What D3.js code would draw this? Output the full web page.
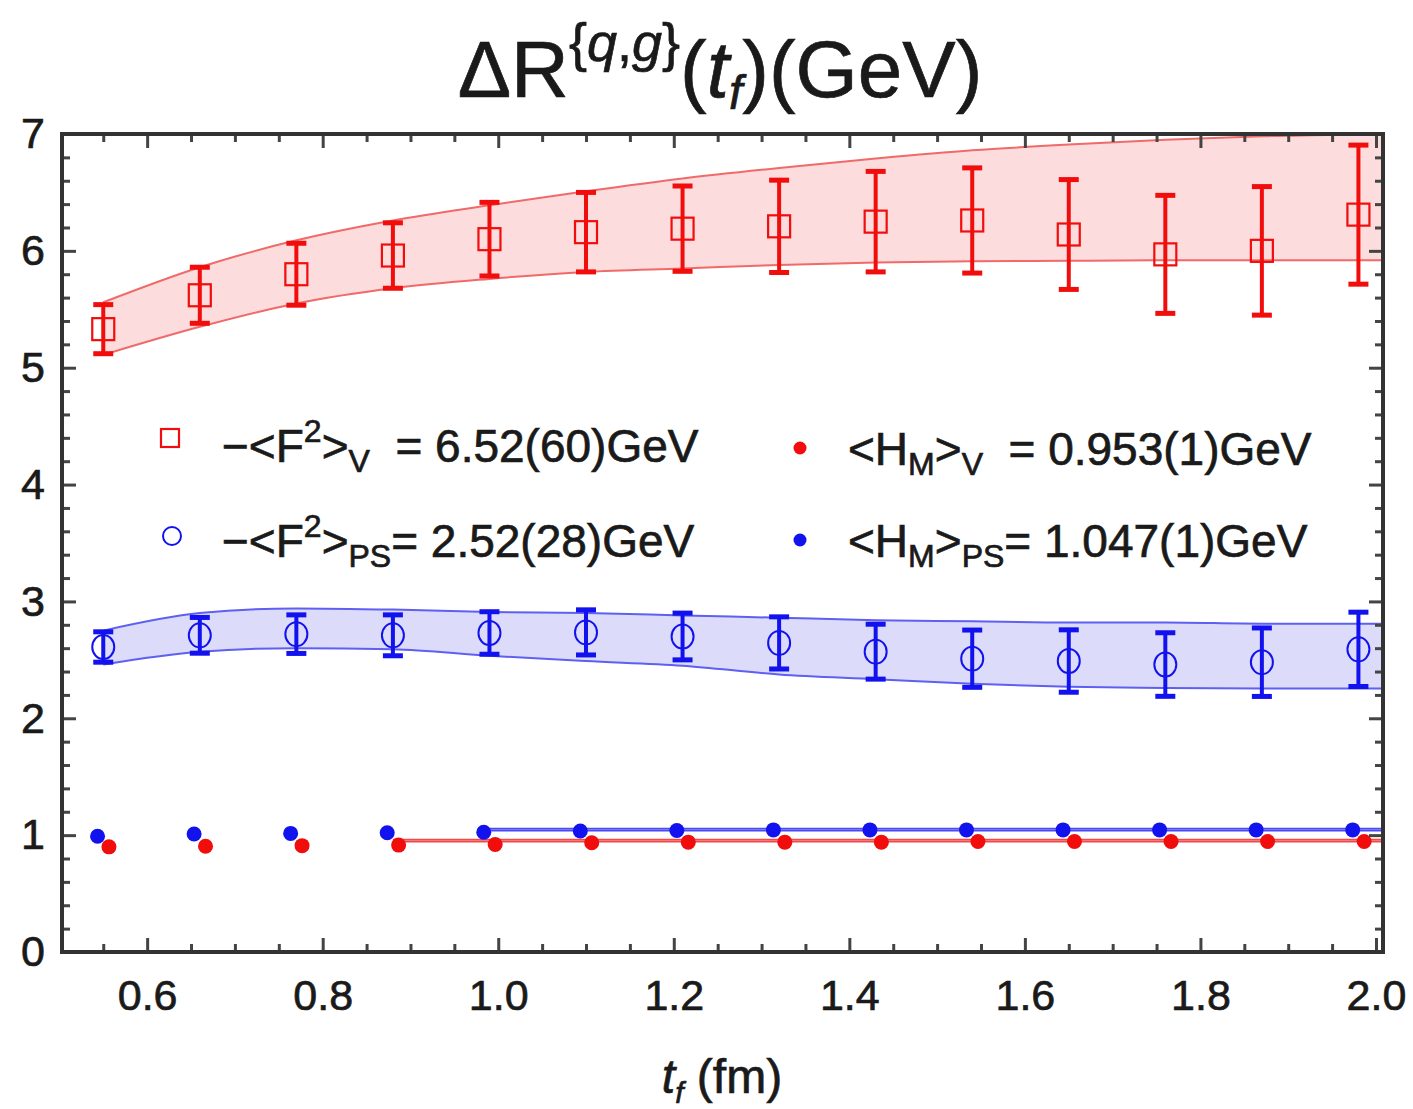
<!DOCTYPE html>
<html>
<head>
<meta charset="utf-8">
<script src="https://cdn.jsdelivr.net/npm/d3@7.9.0/dist/d3.min.js"></script>
<style>
  html, body { margin: 0; padding: 0; background: #fff; }
  svg { display: block; }
  text { font-family: "Liberation Sans", Arial, sans-serif; fill: #1a1a1a; stroke: #1a1a1a; stroke-width: 0.7px; white-space: pre; }
</style>
</head>
<body>
<svg id="chart" width="1413" height="1109"></svg>
<script>
// source times t_f (fm)
const tf = [0.55, 0.66, 0.77, 0.88, 0.99, 1.10, 1.21, 1.32, 1.43, 1.54, 1.65, 1.76, 1.87, 1.98];

// -<F^2>_V points and errors
const f2V    = [5.33, 5.62, 5.80, 5.96, 6.10, 6.16, 6.19, 6.21, 6.25, 6.26, 6.14, 5.97, 6.00, 6.31];
const f2VErr = [0.21, 0.24, 0.265, 0.28, 0.315, 0.34, 0.365, 0.395, 0.43, 0.45, 0.47, 0.505, 0.55, 0.595];

// -<F^2>_PS points and errors
const f2PS    = [2.61, 2.71, 2.72, 2.71, 2.73, 2.735, 2.70, 2.645, 2.57, 2.51, 2.49, 2.46, 2.48, 2.59];
const f2PSErr = [0.13, 0.153, 0.165, 0.175, 0.182, 0.193, 0.20, 0.223, 0.235, 0.245, 0.267, 0.272, 0.293, 0.318];

// <H_M> points
const hmV  = [0.90, 0.905, 0.91, 0.915, 0.92, 0.935, 0.94, 0.94, 0.94, 0.945, 0.945, 0.945, 0.945, 0.945];
const hmPS = [0.99, 1.01, 1.015, 1.02, 1.025, 1.035, 1.04, 1.045, 1.045, 1.045, 1.045, 1.045, 1.045, 1.045];

// fit bands
const bandX      = [0.55, 0.66, 0.77, 0.88, 0.99, 1.10, 1.21, 1.32, 1.43, 1.54, 1.65, 1.76, 1.87, 1.98, 2.01];
const f2VBandHi  = [5.56, 5.86, 6.09, 6.26, 6.39, 6.51, 6.62, 6.71, 6.79, 6.86, 6.91, 6.95, 6.98, 7.00, 7.01];
const f2VBandLo  = [5.11, 5.35, 5.55, 5.68, 5.76, 5.82, 5.85, 5.88, 5.90, 5.91, 5.915, 5.92, 5.92, 5.92, 5.92];
const f2PSBandHi = [2.75, 2.90, 2.94, 2.93, 2.91, 2.90, 2.88, 2.86, 2.84, 2.83, 2.82, 2.82, 2.81, 2.81, 2.81];
const f2PSBandLo = [2.46, 2.57, 2.60, 2.59, 2.535, 2.49, 2.45, 2.375, 2.335, 2.295, 2.27, 2.26, 2.255, 2.255, 2.255];

const hmFitV = 0.953, hmFitPS = 1.047, hmFitErr = 0.008;
const hmFitRangeV  = [0.88, 2.01];
const hmFitRangePS = [0.99, 2.01];

const xTicks = [0.6, 0.8, 1.0, 1.2, 1.4, 1.6, 1.8, 2.0];
const yTicks = [0, 1, 2, 3, 4, 5, 6, 7];

const RED = '#f20d0d', BLUE = '#1212ee';

const svg = d3.select('#chart');
const L = 62, R = 1383, T = 134, B = 952;

const x = d3.scaleLinear().domain([0.503, 2.008]).range([L, R]);
const y = d3.scaleLinear().domain([0, 7]).range([B, T]);

svg.append('defs').append('clipPath').attr('id', 'plot')
  .append('rect').attr('x', L).attr('y', T).attr('width', R - L).attr('height', B - T);

const plot = svg.append('g').attr('clip-path', 'url(#plot)');

// bands
const band = (hi, lo) => d3.area().curve(d3.curveMonotoneX)
  .x((d, i) => x(bandX[i])).y0((d, i) => y(lo[i])).y1((d, i) => y(hi[i]));
const edge = arr => d3.line().curve(d3.curveMonotoneX)
  .x((d, i) => x(bandX[i])).y((d, i) => y(arr[i]));

[[f2VBandHi, f2VBandLo, '#fcdcdc', '#f06a6a'], [f2PSBandHi, f2PSBandLo, '#dcdcfa', '#5f5ff2']]
  .forEach(([hi, lo, fill, stroke]) => {
    plot.append('path').datum(hi).attr('d', band(hi, lo)).attr('fill', fill);
    plot.append('path').datum(hi).attr('d', edge(hi)).attr('fill', 'none').attr('stroke', stroke).attr('stroke-width', 2);
    plot.append('path').datum(lo).attr('d', edge(lo)).attr('fill', 'none').attr('stroke', stroke).attr('stroke-width', 2);
  });

// H_M fit lines (thin bands)
[[hmFitRangePS, hmFitPS, '#c8c8fa', '#4a4af5'], [hmFitRangeV, hmFitV, '#fac8c8', '#f04a4a']]
  .forEach(([rng, v, fill, stroke]) => {
    plot.append('rect').attr('x', x(rng[0])).attr('width', x(rng[1]) - x(rng[0]))
      .attr('y', y(v + hmFitErr)).attr('height', y(v - hmFitErr) - y(v + hmFitErr)).attr('fill', fill);
    [v + hmFitErr, v - hmFitErr].forEach(e => {
      plot.append('line').attr('x1', x(rng[0])).attr('x2', x(rng[1]))
        .attr('y1', y(e)).attr('y2', y(e)).attr('stroke', stroke).attr('stroke-width', 1.8);
    });
  });

// error bars
function errorBars(vals, errs, color) {
  const g = plot.append('g').attr('stroke', color);
  tf.forEach((t, i) => {
    const cx = x(t), y1 = y(vals[i] + errs[i]), y2 = y(vals[i] - errs[i]);
    g.append('line').attr('x1', cx).attr('x2', cx).attr('y1', y1).attr('y2', y2).attr('stroke-width', 4);
    [y1, y2].forEach(yy => g.append('line').attr('x1', cx - 10).attr('x2', cx + 10)
      .attr('y1', yy).attr('y2', yy).attr('stroke-width', 5));
  });
}
errorBars(f2V, f2VErr, RED);
errorBars(f2PS, f2PSErr, BLUE);

plot.append('g').selectAll('rect').data(f2V).join('rect')
  .attr('x', (d, i) => x(tf[i]) - 11).attr('y', d => y(d) - 11)
  .attr('width', 22).attr('height', 22)
  .attr('fill', 'none').attr('stroke', RED).attr('stroke-width', 2.2);

plot.append('g').selectAll('ellipse').data(f2PS).join('ellipse')
  .attr('cx', (d, i) => x(tf[i])).attr('cy', d => y(d))
  .attr('rx', 11).attr('ry', 12)
  .attr('fill', 'none').attr('stroke', BLUE).attr('stroke-width', 2);

// H_M dots
plot.append('g').selectAll('circle').data(hmPS).join('circle')
  .attr('cx', (d, i) => x(tf[i] - 0.0065)).attr('cy', d => y(d)).attr('r', 7.5).attr('fill', BLUE);
plot.append('g').selectAll('circle').data(hmV).join('circle')
  .attr('cx', (d, i) => x(tf[i] + 0.0065)).attr('cy', d => y(d)).attr('r', 7.5).attr('fill', RED);

// frame ticks
const xMinor = d3.range(11, 41).map(i => i * 0.05).filter(v => Math.abs(v / 0.2 - Math.round(v / 0.2)) > 1e-6);
const yMinor = d3.range(0, 36).map(i => i * 0.2).filter(v => Math.abs(v - Math.round(v)) > 1e-6);

function styleAxis(g, labels) {
  g.select('.domain').remove();
  g.selectAll('line').attr('stroke', '#444').attr('stroke-width', 3);
  if (!labels) g.selectAll('text').remove();
  else g.selectAll('text').attr('font-size', 43).attr('fill', '#1a1a1a')
    .attr('font-family', '"Liberation Sans", Arial, sans-serif');
}

svg.append('g').attr('transform', `translate(0,${B})`)
  .call(d3.axisBottom(x).tickValues(xTicks).tickSize(-14).tickPadding(27).tickFormat(d3.format('.1f')))
  .call(g => styleAxis(g, true));
svg.append('g').attr('transform', `translate(0,${B})`)
  .call(d3.axisBottom(x).tickValues(xMinor).tickSize(-8)).call(g => styleAxis(g, false));
svg.append('g').attr('transform', `translate(0,${T})`)
  .call(d3.axisTop(x).tickValues(xTicks).tickSize(-14)).call(g => styleAxis(g, false));
svg.append('g').attr('transform', `translate(0,${T})`)
  .call(d3.axisTop(x).tickValues(xMinor).tickSize(-8)).call(g => styleAxis(g, false));

svg.append('g').attr('transform', `translate(${L},0)`)
  .call(d3.axisLeft(y).tickValues(yTicks).tickSize(-14).tickPadding(17).tickFormat(d3.format('d')))
  .call(g => styleAxis(g, true));
svg.append('g').attr('transform', `translate(${L},0)`)
  .call(d3.axisLeft(y).tickValues(yMinor).tickSize(-8)).call(g => styleAxis(g, false));
svg.append('g').attr('transform', `translate(${R},0)`)
  .call(d3.axisRight(y).tickValues(yTicks).tickSize(-14)).call(g => styleAxis(g, false));
svg.append('g').attr('transform', `translate(${R},0)`)
  .call(d3.axisRight(y).tickValues(yMinor).tickSize(-8)).call(g => styleAxis(g, false));

svg.append('rect').attr('x', L).attr('y', T).attr('width', R - L).attr('height', B - T)
  .attr('fill', 'none').attr('stroke', '#333').attr('stroke-width', 4);

// title
const title = svg.append('text').attr('x', 720).attr('y', 97).attr('text-anchor', 'middle').attr('font-size', 80);
title.append('tspan').text('ΔR');
title.append('tspan').attr('font-size', 54).attr('dy', -36).text('{');
title.append('tspan').attr('font-size', 54).attr('font-style', 'italic').text('q');
title.append('tspan').attr('font-size', 54).text(',');
title.append('tspan').attr('font-size', 54).attr('font-style', 'italic').text('g');
title.append('tspan').attr('font-size', 54).text('}');
title.append('tspan').attr('dy', 36).text('(');
title.append('tspan').attr('font-style', 'italic').text('t');
title.append('tspan').attr('font-size', 48).attr('font-style', 'italic').attr('dy', 12).text('f');
title.append('tspan').attr('dy', -12).text(')(GeV)');

// x axis label
const xl = svg.append('text').attr('x', 722).attr('y', 1093).attr('text-anchor', 'middle')
  .attr('font-size', 48).attr('font-family', '"DejaVu Sans", sans-serif');
xl.append('tspan').attr('font-style', 'italic').text('t');
xl.append('tspan').attr('font-style', 'italic').attr('font-size', 30).attr('dy', 10).text('f');
xl.append('tspan').attr('dy', -10).text(' (fm)');

// legend
const legendRows = [
  { mx: 170, my: 438, tx: 222, ty: 462, shape: 'square', color: RED,
    parts: [['−<F', 0], ['2', -1], ['>', 0], ['V', 1], ['  = 6.52(60)GeV', 0]] },
  { mx: 172, my: 536, tx: 222, ty: 557, shape: 'circle', color: BLUE,
    parts: [['−<F', 0], ['2', -1], ['>', 0], ['PS', 1], ['= 2.52(28)GeV', 0]] },
  { mx: 800, my: 448, tx: 848, ty: 465, shape: 'dot', color: RED,
    parts: [['<H', 0], ['M', 1], ['>', 0], ['V', 1], ['  = 0.953(1)GeV', 0]] },
  { mx: 800, my: 540, tx: 848, ty: 557, shape: 'dot', color: BLUE,
    parts: [['<H', 0], ['M', 1], ['>', 0], ['PS', 1], ['= 1.047(1)GeV', 0]] },
];

legendRows.forEach(r => {
  if (r.shape === 'square') svg.append('rect').attr('x', r.mx - 9).attr('y', r.my - 9).attr('width', 18).attr('height', 18)
    .attr('fill', 'none').attr('stroke', r.color).attr('stroke-width', 2.2);
  else if (r.shape === 'circle') svg.append('circle').attr('cx', r.mx).attr('cy', r.my).attr('r', 9)
    .attr('fill', 'none').attr('stroke', r.color).attr('stroke-width', 2);
  else svg.append('circle').attr('cx', r.mx).attr('cy', r.my).attr('r', 6.5).attr('fill', r.color);

  const t = svg.append('text').attr('x', r.tx).attr('y', r.ty).attr('font-size', 46);
  let shift = 0;
  r.parts.forEach(([s, lvl]) => {
    const target = lvl === -1 ? -20 : lvl === 1 ? 10 : 0;
    t.append('tspan').attr('dy', target - shift).attr('font-size', lvl === 0 ? 46 : 32).text(s);
    shift = target;
  });
});
</script>
</body>
</html>
